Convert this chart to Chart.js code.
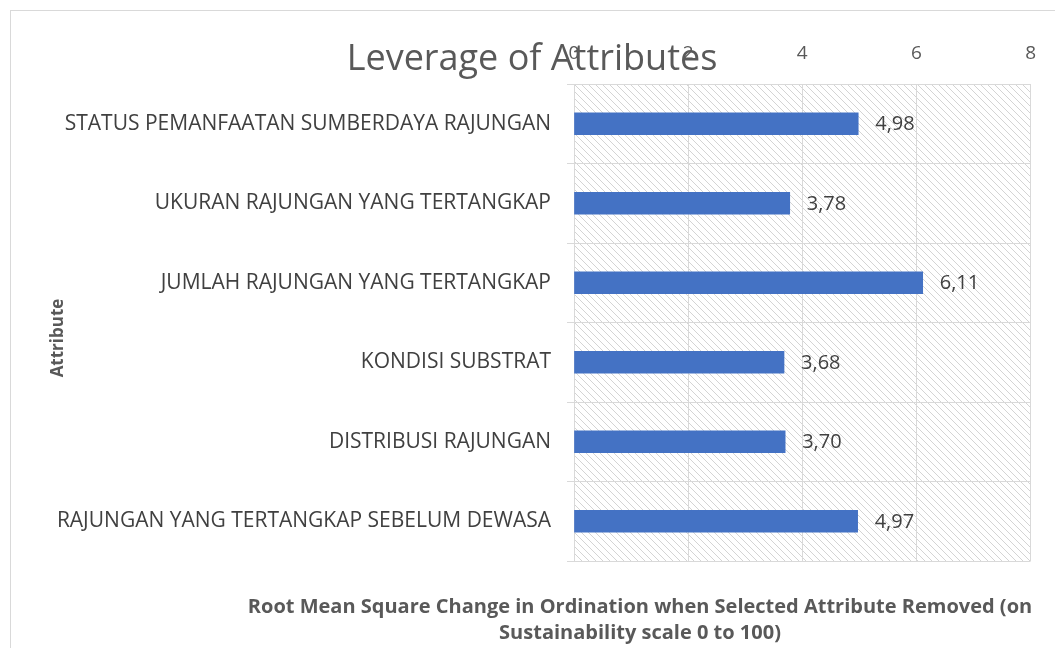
<!DOCTYPE html>
<html>
<head>
<meta charset="utf-8">
<title>Leverage of Attributes</title>
<script src="https://cdn.jsdelivr.net/npm/chart.js@4/dist/chart.umd.min.js"></script>
<style>
    html, body { margin: 0; padding: 0; background: #fff; overflow: hidden; }
    #wrap { position: relative; width: 1055px; height: 648px; }
</style>
</head>
<body>
<div id="wrap"><canvas id="leverageChart" width="1055" height="648"></canvas></div>
<script>
// Leverage of Attributes - RMS change per attribute

const attributes = [
    'STATUS PEMANFAATAN SUMBERDAYA RAJUNGAN',
    'UKURAN RAJUNGAN YANG TERTANGKAP',
    'JUMLAH RAJUNGAN YANG TERTANGKAP',
    'KONDISI SUBSTRAT',
    'DISTRIBUSI RAJUNGAN',
    'RAJUNGAN YANG TERTANGKAP SEBELUM DEWASA'
];
const rmsValues = [4.98, 3.78, 6.11, 3.68, 3.70, 4.97];
const xTicks = [0, 2, 4, 6, 8];

const chartTitle = 'Leverage of Attributes';
const yTitle = 'Attribute';
const xTitleLines = [
    'Root Mean Square Change in Ordination when Selected Attribute Removed (on',
    'Sustainability scale 0 to 100)'
];

const FONT = "'Open Sans', sans-serif";

function makeHatch() {
    const c = document.createElement('canvas');
    c.width = 7;
    c.height = 7;
    const g = c.getContext('2d');
    g.strokeStyle = '#d4d4d4';
    g.lineWidth = 1;
    g.beginPath();
    g.moveTo(-1, -1);
    g.lineTo(8, 8);
    g.stroke();
    return document.getElementById('leverageChart').getContext('2d').createPattern(c, 'repeat');
}

const framePlugin = {
    id: 'frame',
    beforeDraw(chart) {
        const { ctx, chartArea } = chart;
        ctx.save();
        ctx.fillStyle = '#fff';
        ctx.fillRect(0, 0, chart.width, chart.height);
        ctx.strokeStyle = '#d9d9d9';
        ctx.lineWidth = 1;
        ctx.strokeRect(10.5, 10.5, 3000, 3000);
        ctx.fillStyle = makeHatch();
        ctx.fillRect(chartArea.left, chartArea.top, chartArea.right - chartArea.left, chartArea.bottom - chartArea.top);
        ctx.restore();
    },
    afterDraw(chart) {
        const { ctx } = chart;
        ctx.save();
        ctx.textAlign = 'center';
        ctx.textBaseline = 'middle';

        // chart title
        ctx.fillStyle = '#595959';
        ctx.font = '36px ' + FONT;
        ctx.fillText(chartTitle, 532, 60);

        // x axis title (bottom)
        ctx.font = 'bold 20px ' + FONT;
        ctx.fillText(xTitleLines[0], 640, 607);
        ctx.fillText(xTitleLines[1], 640, 633);

        // y axis title
        ctx.translate(58, 338);
        ctx.rotate(-Math.PI / 2);
        ctx.font = 'bold 17px ' + FONT;
        ctx.fillText(yTitle, 0, 0);
        ctx.restore();
    },
    afterDatasetsDraw(chart) {
        const { ctx } = chart;
        const meta = chart.getDatasetMeta(0);
        ctx.save();
        ctx.fillStyle = '#404040';
        ctx.font = '20px ' + FONT;
        ctx.textAlign = 'left';
        ctx.textBaseline = 'middle';
        meta.data.forEach((bar, i) => {
            const label = rmsValues[i].toFixed(2).replace('.', ',');
            ctx.fillText(label, bar.x + 17, bar.y + 1);
        });
        ctx.restore();
    }
};

new Chart(document.getElementById('leverageChart'), {
    type: 'bar',
    data: {
        labels: attributes,
        datasets: [{
            data: rmsValues,
            backgroundColor: '#4472c4',
            borderWidth: 0,
            barThickness: 22
        }]
    },
    options: {
        indexAxis: 'y',
        responsive: false,
        animation: false,
        layout: {
            padding: { left: 40, right: 19, top: 0, bottom: 87 }
        },
        plugins: {
            legend: { display: false },
            tooltip: { enabled: false },
            title: { display: false }
        },
        scales: {
            x: {
                position: 'top',
                min: xTicks[0],
                max: xTicks[xTicks.length - 1],
                afterBuildTicks: scale => {
                    scale.ticks = xTicks.map(v => ({ value: v }));
                },
                afterFit: scale => { scale.height = 84; },
                grid: {
                    color: '#d9d9d9',
                    drawTicks: false
                },
                border: { color: '#d9d9d9' },
                ticks: {
                    color: '#595959',
                    font: { family: FONT, size: 19 },
                    padding: 19
                }
            },
            y: {
                afterFit: scale => { scale.width = 574 - 40; },
                grid: {
                    color: '#d9d9d9',
                    offset: true,
                    tickLength: 7
                },
                border: { color: '#d9d9d9' },
                ticks: {
                    color: '#404040',
                    font: { family: FONT, size: 21 },
                    padding: 16,
                    autoSkip: false
                }
            }
        }
    },
    plugins: [framePlugin]
});
</script>
</body>
</html>
